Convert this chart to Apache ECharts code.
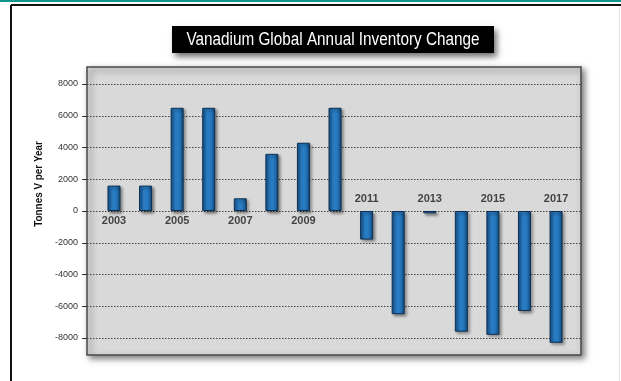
<!DOCTYPE html>
<html>
<head>
<meta charset="utf-8">
<script src="https://cdn.jsdelivr.net/npm/echarts@6/dist/echarts.min.js"></script>
<style>
html,body{margin:0;padding:0;background:#fff;}
#chart{width:621px;height:381px;}
</style>
</head>
<body>
<div id="chart"></div>
<script>
// ---- data ----
const years = [2003, 2004, 2005, 2006, 2007, 2008, 2009, 2010, 2011, 2012, 2013, 2014, 2015, 2016, 2017];
const inventoryChange = [1600, 1600, 6500, 6500, 800, 3600, 4300, 6500, -1800, -6500, -150, -7600, -7800, -6300, -8300];
const labeledYears = [2003, 2005, 2007, 2009, 2011, 2013, 2015, 2017];
const yTicks = [-8000, -6000, -4000, -2000, 0, 2000, 4000, 6000, 8000];
const titleText = 'Vanadium Global Annual Inventory Change';
const yAxisTitle = 'Tonnes V per Year';

const FONT = '"Liberation Sans", Arial, sans-serif';

const chart = echarts.init(document.getElementById('chart'), null, {renderer: 'canvas'});

const barData = years.map((y, i) => [y, inventoryChange[i]]);
const labelData = years.map((y, i) => ({
  value: [y, 0],
  label: {
    show: labeledYears.indexOf(y) >= 0,
    position: inventoryChange[i] >= 0 ? 'bottom' : 'top',
    distance: inventoryChange[i] >= 0 ? 4 : 7
  }
}));

const option = {
  animation: false,
  backgroundColor: '#ffffff',
  graphic: [
    // teal band on top
    {type: 'rect', z: -10, shape: {x: 0, y: 0, width: 621, height: 2}, style: {fill: '#10968a'}},
    // outer frame
    {type: 'line', z: -10, shape: {x1: 11, y1: 5, x2: 621, y2: 5}, style: {stroke: '#111', lineWidth: 2}},
    {type: 'line', z: -10, shape: {x1: 11, y1: 5, x2: 11, y2: 381}, style: {stroke: '#111', lineWidth: 2}},
    {type: 'line', z: -10, shape: {x1: 619.5, y1: 6, x2: 619.5, y2: 381}, style: {stroke: '#e4e4e4', lineWidth: 1}},
    // title box
    {type: 'rect', z: 10, shape: {x: 172, y: 26, width: 322, height: 27},
      style: {fill: '#000', shadowBlur: 6, shadowColor: 'rgba(0,0,0,0.55)', shadowOffsetX: 3, shadowOffsetY: 4}},
    {type: 'text', z: 11, x: 333, y: 40, scaleX: 0.85,
      style: {text: titleText, fill: '#fff', font: '18px ' + FONT, align: 'center', verticalAlign: 'middle'}},
    // plot panel
    {type: 'rect', z: -5, shape: {x: 87, y: 67, width: 494, height: 288},
      style: {fill: '#d9d9d9', stroke: '#4a4a4a', lineWidth: 1.5,
        shadowBlur: 6, shadowColor: 'rgba(0,0,0,0.5)', shadowOffsetX: 3, shadowOffsetY: 3}},
    // y axis title
    {type: 'text', x: 39, y: 184, rotation: Math.PI / 2, scaleX: 0.9,
      style: {text: yAxisTitle, fill: '#111', font: 'bold 11px ' + FONT, align: 'center', verticalAlign: 'middle'}}
  ],
  grid: {
    left: 87,
    right: 40,
    top: 84,
    height: 254
  },
  xAxis: {
    type: 'value',
    min: 2002.145,
    max: 2017.79,
    show: false
  },
  yAxis: {
    type: 'value',
    min: yTicks[0],
    max: yTicks[yTicks.length - 1],
    interval: 2000,
    axisLine: {show: false},
    axisTick: {show: true, length: 5, lineStyle: {color: '#333', width: 1}},
    axisLabel: {
      margin: 9,
      color: '#333',
      fontFamily: FONT,
      fontSize: 9,
      formatter: v => String(v)
    },
    splitLine: {show: true, lineStyle: {color: '#444', type: [1.5, 1.5], width: 1}}
  },
  series: [
    {
      type: 'bar',
      data: barData,
      barWidth: 13,
      clip: false,
      itemStyle: {
        color: new echarts.graphic.LinearGradient(0, 0, 1, 0, [
          {offset: 0, color: '#16528c'},
          {offset: 0.35, color: '#2a7fc6'},
          {offset: 0.65, color: '#2679c0'},
          {offset: 1, color: '#124778'}
        ]),
        borderColor: '#0c2f52',
        borderWidth: 1,
        shadowBlur: 3,
        shadowColor: 'rgba(0,0,0,0.45)',
        shadowOffsetX: 2,
        shadowOffsetY: 2
      },
      z: 3
    },
    {
      type: 'scatter',
      data: labelData,
      symbolSize: 0,
      silent: true,
      z: 4,
      label: {
        formatter: p => String(p.value[0]),
        color: '#1a1a1a',
        fontFamily: FONT,
        fontWeight: 'bold',
        fontSize: 11
      }
    }
  ]
};

chart.setOption(option);
</script>
</body>
</html>
